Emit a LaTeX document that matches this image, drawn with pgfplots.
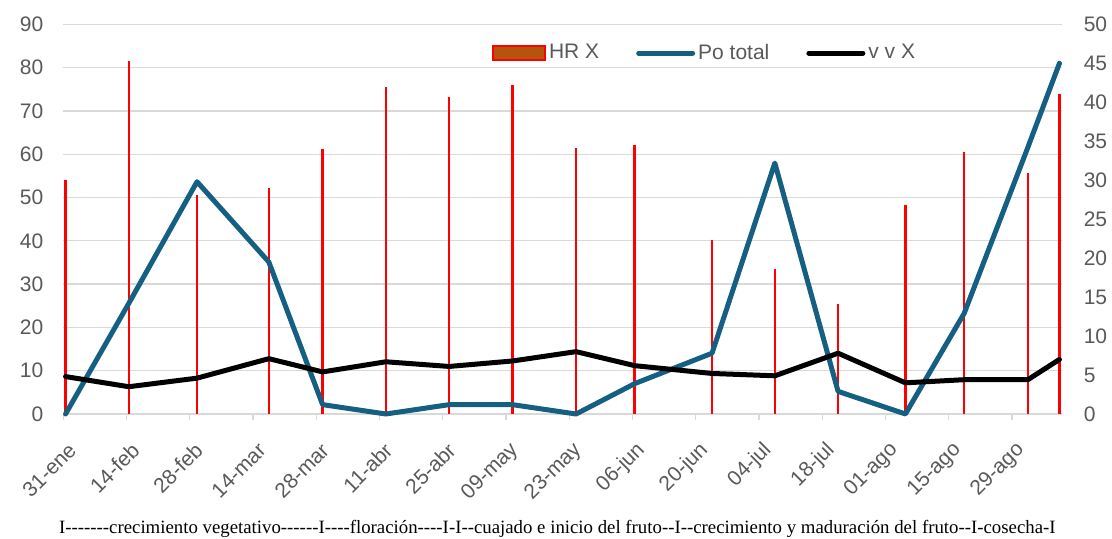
\documentclass[border=0pt]{standalone}
\usepackage{fontspec}
\setmainfont{Liberation Sans}
\newfontfamily\capfont[Ligatures=TeXOff]{Liberation Serif}
\usepackage{pgfplots}
\pgfplotsset{compat=1.18}
\definecolor{txtgray}{HTML}{595959}
\definecolor{gridgray}{HTML}{D9D9D9}
\definecolor{poblue}{HTML}{156082}
\definecolor{hrbrown}{HTML}{B5530F}
\begin{document}
\begin{tikzpicture}
\useasboundingbox (-31.65pt,-62.5pt) rectangle (524.35pt,207pt);
\begin{axis}[
  at={(0,0)}, anchor=south west,
  scale only axis, width=499.2pt, height=194.85pt,
  xmin=0, xmax=221, ymin=0, ymax=90,
  ytick={0,10,...,90},
  xtick={0,14,...,210},
  xticklabels={31-ene,14-feb,28-feb,14-mar,28-mar,11-abr,25-abr,09-may,23-may,06-jun,20-jun,04-jul,18-jul,01-ago,15-ago,29-ago},
  axis line style={draw=none},
  xtick pos=bottom, ytick pos=left,
  tick align=outside,
  major tick length=3pt,
  xtick style={draw=gridgray, line width=0.6pt},
  ytick style={draw=none},
  ymajorgrids, grid style={draw=gridgray, line width=0.6pt},
  /pgf/number format/assume math mode=true,
  tick label style={font=\fontsize{10.5}{12}\selectfont, text=txtgray},
  yticklabel style={xshift=-3.5pt},
  xticklabel style={font=\fontsize{10.5}{12}\selectfont, anchor=east, xshift=7pt, yshift=-11pt, rotate=45},
  legend columns=3,
  legend style={draw=none, fill=none, at={(0.4294,0.926)}, anchor=west, inner sep=0pt,
    font=\fontsize{10.5}{12}\selectfont, text=txtgray,
    nodes={inner xsep=1.5pt},
    /tikz/every odd column/.append style={column sep=0pt},
    /tikz/every even column/.append style={column sep=17pt}},
  clip=false,
]
\addplot[ycomb, draw=red, line width=1.3pt,
  legend image code/.code={\draw[fill=hrbrown, draw=red, line width=0.8pt] (0pt,-3.5pt) rectangle (26pt,3.5pt);}]
  coordinates {
  (0.5,54.1) (14.5,81.6) (29.6,50.6) (45.5,52.1) (57.4,61.3) (71.4,75.6)
  (85.4,73.1) (99.4,76.0) (113.5,61.5) (126.5,62.2) (143.6,40.2) (157.5,33.6)
  (171.5,25.3) (186.4,48.3) (199.4,60.4) (213.5,55.6) (220.5,74.0)};
\addlegendentry{HR X}
\addlegendimage{legend image code/.code={\draw[poblue, line width=2.5pt, line cap=round] (0pt,0pt) -- (27pt,0pt);}}
\addlegendentry{Po total}
\addlegendimage{legend image code/.code={\draw[black, line width=2.5pt, line cap=round] (0pt,0pt) -- (27pt,0pt);}}
\addlegendentry{v v X}
\end{axis}
\begin{axis}[
  at={(0,0)}, anchor=south west,
  scale only axis, width=499.2pt, height=194.85pt,
  xmin=0, xmax=221, ymin=0, ymax=50,
  ytick={0,5,...,50},
  axis x line=none, axis y line*=right,
  y axis line style={draw=none},
  ytick style={draw=none},
  /pgf/number format/assume math mode=true,
  tick label style={font=\fontsize{10.5}{12}\selectfont, text=txtgray},
  yticklabel style={xshift=7.5pt},
  clip=false,
]
\addplot[poblue, line width=2.5pt, line join=round, line cap=round] coordinates {
  (0.5,0) (14.5,14.2) (29.6,29.8) (45.5,19.5) (57.4,1.2) (71.4,0)
  (85.4,1.2) (99.4,1.2) (113.5,0) (126.5,3.9) (143.6,7.8) (157.5,32.2)
  (171.5,2.9) (186.4,0) (199.4,12.9) (213.5,34.2) (220.5,45)};
\addplot[black, line width=2.5pt, line join=round, line cap=round] coordinates {
  (0.5,4.8) (14.5,3.5) (29.6,4.6) (45.5,7.1) (57.4,5.4) (71.4,6.7)
  (85.4,6.1) (99.4,6.8) (113.5,8.0) (126.5,6.2) (143.6,5.2) (157.5,4.9)
  (171.5,7.8) (186.4,4.0) (199.4,4.4) (213.5,4.4) (220.5,7.0)};
\end{axis}
\node[font=\capfont\fontsize{9.4}{11}\selectfont, text=black] at (247pt,-57.5pt)
  {I-------crecimiento vegetativo------I----floración----I-I--cuajado e inicio del fruto--I--crecimiento y maduración del fruto--I-cosecha-I};
\end{tikzpicture}
\end{document}
